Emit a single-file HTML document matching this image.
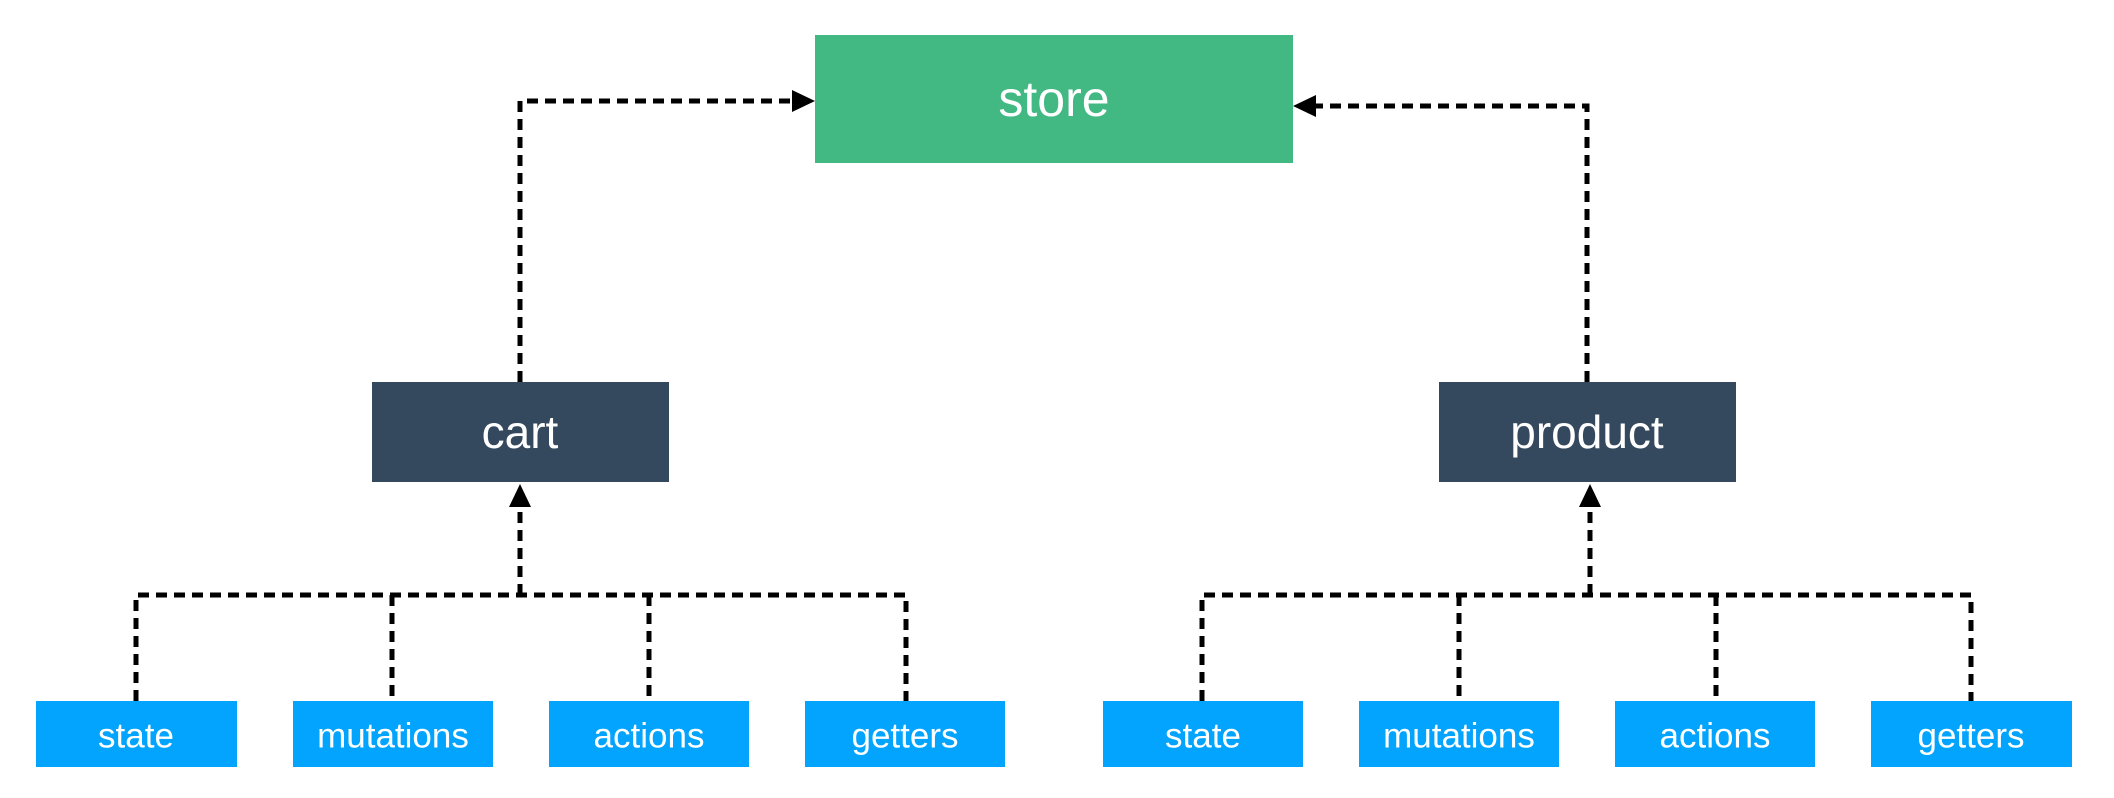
<!DOCTYPE html>
<html><head><meta charset="utf-8"><style>
html,body{margin:0;padding:0;background:#fff;}
svg{display:block}
text{font-family:"Liberation Sans",sans-serif;fill:#fff;text-anchor:middle;dominant-baseline:central}
</style></head><body>
<svg width="2114" height="798" viewBox="0 0 2114 798" xmlns="http://www.w3.org/2000/svg">
<g fill="none" stroke="#000" stroke-width="5" stroke-dasharray="11 7">
<path d="M520,382 V101 H795"/>
<path d="M1587,382 V106 H1313"/>
<path d="M136,701 V595 H906 V701 M392,595 V701 M649,595 V701 M520,595 V500" />
<path d="M1202,701 V595 H1971 V701 M1459,595 V701 M1716,595 V701 M1590,595 V500" />
</g>
<path d="M815,101 L792,90 L792,112 z" fill="#000"/>
<path d="M1293,106 L1316,95 L1316,117 z" fill="#000"/>
<path d="M520,484 L509,507 L531,507 z" fill="#000"/>
<path d="M1590,484 L1579,507 L1601,507 z" fill="#000"/>
<rect x="815" y="35" width="478" height="128" fill="#42b883"/>
<text x="1054" y="99" font-size="50">store</text>
<rect x="372" y="382" width="297" height="100" fill="#35495e"/>
<text x="520" y="432" font-size="46">cart</text>
<rect x="1439" y="382" width="297" height="100" fill="#35495e"/>
<text x="1587" y="432" font-size="46">product</text>
<g fill="#03a4fe">
<rect x="36" y="701" width="201" height="66"/>
<rect x="293" y="701" width="200" height="66"/>
<rect x="549" y="701" width="200" height="66"/>
<rect x="805" y="701" width="200" height="66"/>
<rect x="1103" y="701" width="200" height="66"/>
<rect x="1359" y="701" width="200" height="66"/>
<rect x="1615" y="701" width="200" height="66"/>
<rect x="1871" y="701" width="201" height="66"/>
</g>
<g font-size="35">
<text x="136" y="736">state</text>
<text x="393" y="736">mutations</text>
<text x="649" y="736">actions</text>
<text x="905" y="736">getters</text>
<text x="1203" y="736">state</text>
<text x="1459" y="736">mutations</text>
<text x="1715" y="736">actions</text>
<text x="1971" y="736">getters</text>
</g>
</svg>
</body></html>
